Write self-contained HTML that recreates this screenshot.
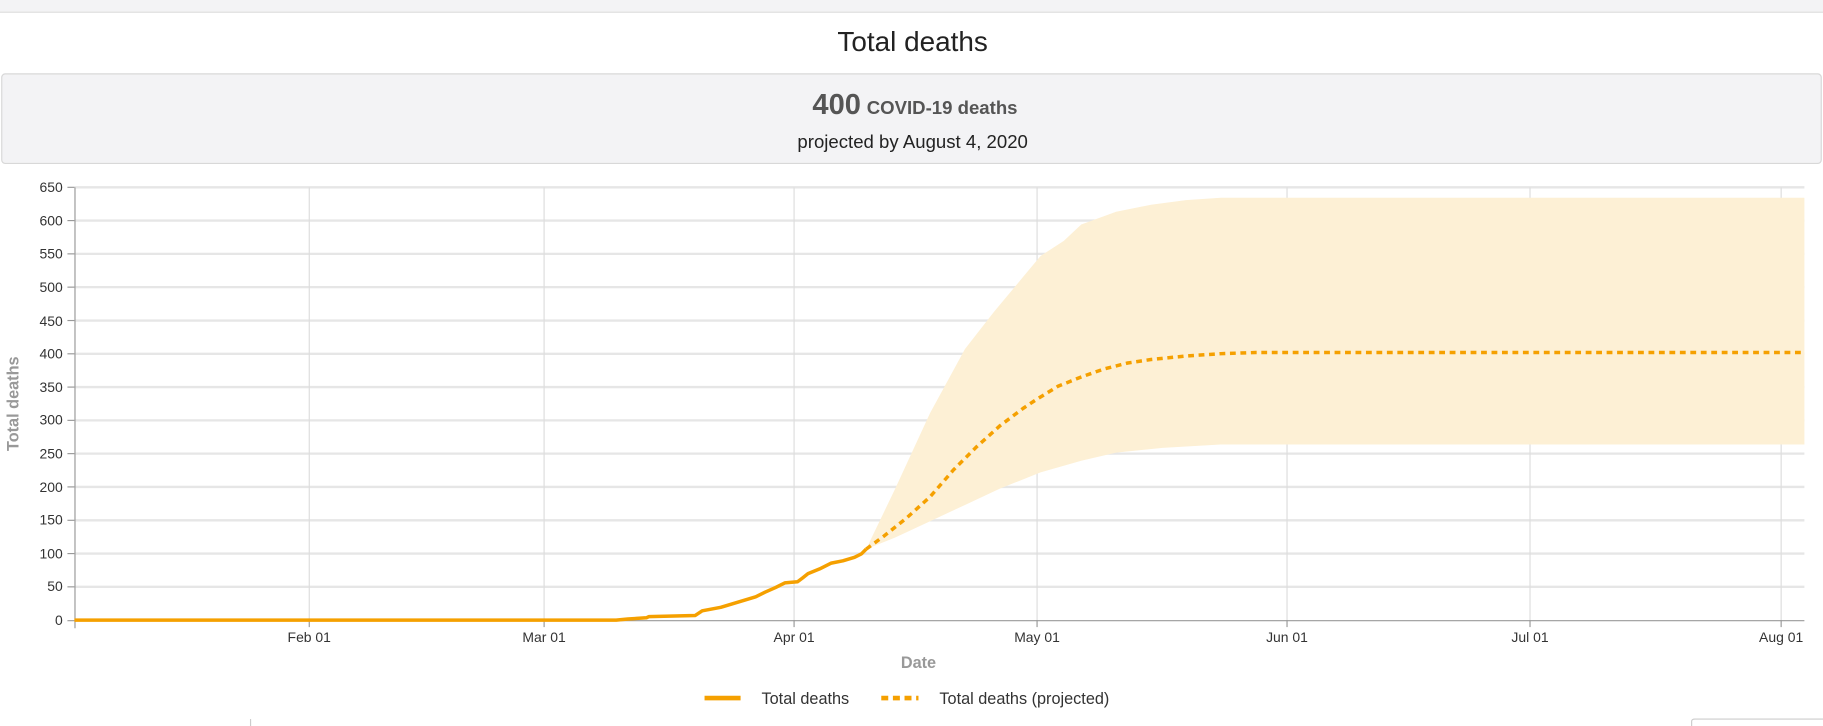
<!DOCTYPE html>
<html><head><meta charset="utf-8"><style>
html,body{margin:0;padding:0;background:#fff;width:1823px;height:726px;overflow:hidden}
svg{display:block}
text{font-family:"Liberation Sans",Arial,sans-serif}
</style></head><body>
<svg width="1823" height="726" viewBox="0 0 1568 624" preserveAspectRatio="none" xmlns="http://www.w3.org/2000/svg">
<rect x="0" y="0" width="1568" height="10" fill="#f3f3f5"/>
<line x1="0" y1="10.5" x2="1568" y2="10.5" stroke="#dcdcdc"/>
<text x="785" y="44" font-size="24" text-anchor="middle" fill="#222">Total deaths</text>
<rect x="1.5" y="63.5" width="1565" height="77" rx="3" fill="#f3f3f5" stroke="#d8d8d8"/>
<text x="787" y="98" text-anchor="middle" fill="#555" font-weight="bold"><tspan font-size="25">400</tspan><tspan font-size="16" dx="5">COVID-19 deaths</tspan></text>
<text x="785" y="127" text-anchor="middle" font-size="16" fill="#222">projected by August 4, 2020</text>
<g stroke="#e6e6e6" stroke-width="2">
<line x1="64" y1="161" x2="1552" y2="161"/><line x1="64" y1="189.6" x2="1552" y2="189.6"/>
<line x1="64" y1="218.2" x2="1552" y2="218.2"/><line x1="64" y1="246.8" x2="1552" y2="246.8"/>
<line x1="64" y1="275.5" x2="1552" y2="275.5"/><line x1="64" y1="304.1" x2="1552" y2="304.1"/>
<line x1="64" y1="332.7" x2="1552" y2="332.7"/><line x1="64" y1="361.3" x2="1552" y2="361.3"/>
<line x1="64" y1="389.9" x2="1552" y2="389.9"/><line x1="64" y1="418.5" x2="1552" y2="418.5"/>
<line x1="64" y1="447.2" x2="1552" y2="447.2"/><line x1="64" y1="475.8" x2="1552" y2="475.8"/>
<line x1="64" y1="504.4" x2="1552" y2="504.4"/>
</g>
<g stroke="#ddd" stroke-width="1">
<line x1="266" y1="161" x2="266" y2="533"/><line x1="468" y1="161" x2="468" y2="533"/>
<line x1="683" y1="161" x2="683" y2="533"/><line x1="892" y1="161" x2="892" y2="533"/>
<line x1="1107" y1="161" x2="1107" y2="533"/><line x1="1316" y1="161" x2="1316" y2="533"/>
<line x1="1532" y1="161" x2="1532" y2="533"/>
</g>
<path d="M745,472 L770,420 800,355 830,300 855,268 880,238 895,220 915,207 930,193 960,182 990,176 1020,172 1050,170 1552,170 L1552,382 1050,382 1000,385 960,389 930,396 895,406 860,420 830,434 800,448 770,462 Z" fill="#fdf0d5"/>
<line x1="64.5" y1="161" x2="64.5" y2="540" stroke="#999"/>
<line x1="58" y1="533.5" x2="1552" y2="533.5" stroke="#999"/>
<g stroke="#999">
<line x1="58" y1="161" x2="64" y2="161"/><line x1="58" y1="189.6" x2="64" y2="189.6"/><line x1="58" y1="218.2" x2="64" y2="218.2"/><line x1="58" y1="246.8" x2="64" y2="246.8"/><line x1="58" y1="275.5" x2="64" y2="275.5"/><line x1="58" y1="304.1" x2="64" y2="304.1"/><line x1="58" y1="332.7" x2="64" y2="332.7"/><line x1="58" y1="361.3" x2="64" y2="361.3"/><line x1="58" y1="389.9" x2="64" y2="389.9"/><line x1="58" y1="418.5" x2="64" y2="418.5"/><line x1="58" y1="447.2" x2="64" y2="447.2"/><line x1="58" y1="475.8" x2="64" y2="475.8"/><line x1="58" y1="504.4" x2="64" y2="504.4"/>
<line x1="266" y1="533" x2="266" y2="539"/><line x1="468" y1="533" x2="468" y2="539"/><line x1="683" y1="533" x2="683" y2="539"/><line x1="892" y1="533" x2="892" y2="539"/><line x1="1107" y1="533" x2="1107" y2="539"/><line x1="1316" y1="533" x2="1316" y2="539"/><line x1="1532" y1="533" x2="1532" y2="539"/>
</g>
<g font-size="12" fill="#333" text-anchor="end">
<text x="54" y="165">650</text><text x="54" y="194">600</text><text x="54" y="222">550</text><text x="54" y="251">500</text><text x="54" y="280">450</text><text x="54" y="308">400</text><text x="54" y="337">350</text><text x="54" y="365">300</text><text x="54" y="394">250</text><text x="54" y="423">200</text><text x="54" y="451">150</text><text x="54" y="480">100</text><text x="54" y="508">50</text><text x="54" y="537">0</text>
</g>
<g font-size="12" fill="#333" text-anchor="middle">
<text x="266" y="552">Feb 01</text><text x="468" y="552">Mar 01</text><text x="683" y="552">Apr 01</text><text x="892" y="552">May 01</text><text x="1107" y="552">Jun 01</text><text x="1316" y="552">Jul 01</text><text x="1532" y="552">Aug 01</text>
</g>
<text x="790" y="574" font-size="14" font-weight="bold" fill="#999" text-anchor="middle">Date</text>
<text transform="translate(16,347) rotate(-90)" font-size="14" font-weight="bold" fill="#999" text-anchor="middle">Total deaths</text>
<path d="M745,472 L760,461 780,445 800,427 820,404 840,384 860,366 880,351 892,343 910,332 930,324 950,317 970,312 990,309 1020,306 1050,304 1080,303 L1552,303" fill="none" stroke="#f5a000" stroke-width="3" stroke-dasharray="5,4" stroke-linejoin="round"/>
<path d="M64,533 L530,533 540,532 556,531 558,530 598,529 604,525 620,522 630,519 640,516 650,513 658,509 667,505 675,501 686,500 690,497 695,493 705,489 715,484 725,482 735,479 741,476 745,472" fill="none" stroke="#f5a000" stroke-width="3" stroke-linejoin="round"/>
<line x1="606" y1="600" x2="637" y2="600" stroke="#f5a000" stroke-width="4"/>
<text x="655" y="605" font-size="14" fill="#333">Total deaths</text>
<line x1="758" y1="600" x2="790" y2="600" stroke="#f5a000" stroke-width="4" stroke-dasharray="6,4"/>
<text x="808" y="605" font-size="14" fill="#333">Total deaths (projected)</text>
<line x1="215.5" y1="618" x2="215.5" y2="624" stroke="#ccc"/>
<path d="M1455,624 L1455,620 Q1455,618 1458,618 L1568,618" fill="none" stroke="#ccc"/>
</svg>
</body></html>
